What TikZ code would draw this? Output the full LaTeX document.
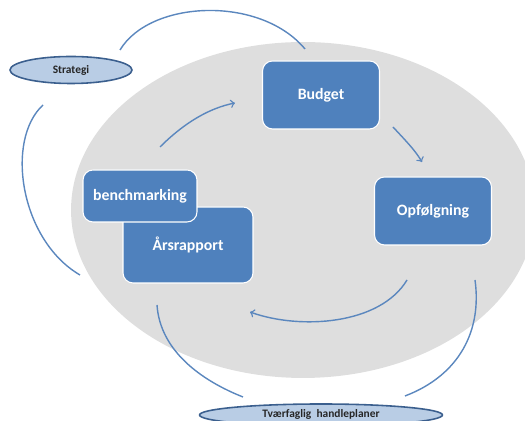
\documentclass[tikz,border=0pt]{standalone}
\usepackage{fontspec}
\setmainfont{Carlito}
\usetikzlibrary{shapes.geometric}
\definecolor{boxblue}{HTML}{4F81BD}
\definecolor{lineblue}{HTML}{5B87BE}
\definecolor{ovalfill}{HTML}{B9CDE5}
\definecolor{ovaldraw}{HTML}{3B5F8E}
\definecolor{ringgray}{HTML}{DEDEDE}
\tikzset{
  box/.style={draw=white, line width=0.6pt, fill=boxblue, rounded corners=0.2cm,
    text=white, font=\bfseries\fontsize{9}{10}\selectfont},
  oval/.style={ellipse, draw=ovaldraw, line width=0.9pt, fill=ovalfill,
    inner sep=0pt, text=black!85},
  link/.style={lineblue, line width=0.8pt},
}
\begin{document}
\begin{tikzpicture}[x=0.02cm, y=-0.02cm]
\useasboundingbox (0,0) rectangle (525,421);
\clip (0,0) rectangle (525,421);
\fill[ringgray] (303,210) ellipse [x radius=4.64cm, y radius=3.36cm];

\node[box, minimum width=2.34cm, minimum height=1.36cm] (b) at (321,95) {Budget};
\node[box, minimum width=2.34cm, minimum height=1.36cm] (o) at (433,211) {Opfølgning};
\node[box, minimum width=2.6cm, minimum height=1.52cm] (a) at (188,245) {Årsrapport};
\node[box, minimum width=2.28cm, minimum height=1.04cm] (bm) at (140,196) {benchmarking};

\node[oval, minimum width=2.44cm, minimum height=0.54cm, font=\bfseries\fontsize{6.5}{7}\selectfont] (s) at (71,70) {Strategi};
\node[oval, minimum width=4.86cm, minimum height=0.44cm, font=\bfseries\fontsize{6.5}{7}\selectfont] (t) at (321,415) {\raisebox{1.5pt}{Tværfaglig\ \ handleplaner}};

% inner cycle
\coordinate (c1) at (160,147);
\coordinate (c2) at (235,103);
\draw[link, ->] (c1) .. controls (185,122) and (210,108) .. (c2);
\coordinate (c3) at (393,127);
\coordinate (c4) at (422,162);
\draw[link, ->] (c3) .. controls (405,140) and (415,150) .. (c4);
\coordinate (c5) at (407,280);
\coordinate (c6) at (250,312);
\draw[link, ->] (c5) .. controls (380,325) and (300,330) .. (c6);

% outer arcs
\coordinate (d1) at (120,50);
\coordinate (d2) at (305,49);
\draw[link] (d1) .. controls (150,0) and (260,-5) .. (d2);
\coordinate (d3) at (43,105);
\coordinate (d4) at (80,275);
\draw[link] (d3) .. controls (5,140) and (20,240) .. (d4);
\coordinate (d5) at (157,305);
\coordinate (d6) at (243,397);
\draw[link] (d5) .. controls (160,350) and (200,380) .. (d6);
\coordinate (d7) at (475,280);
\coordinate (d8) at (405,396);
\draw[link] (d7) .. controls (482,330) and (460,375) .. (d8);
\end{tikzpicture}
\end{document}
